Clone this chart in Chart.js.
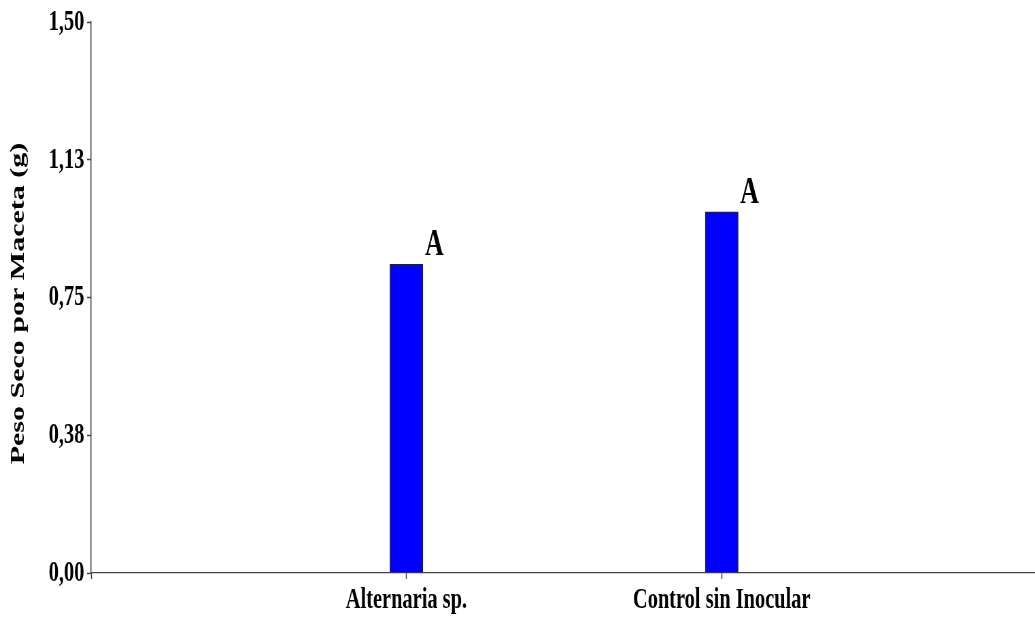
<!DOCTYPE html>
<html>
<head>
<meta charset="utf-8">
<script src="https://cdn.jsdelivr.net/npm/chart.js@4"></script>
<style>
  html, body { margin: 0; padding: 0; background: #fff; overflow: hidden; }
  /* the reference looks horizontally condensed, so draw wide and squeeze */
  #wrap { width: 1528px; height: 619px; transform: scaleX(0.68); transform-origin: 0 0; }
</style>
</head>
<body>
<div id="wrap"><canvas id="chart"></canvas></div>
<script>
const categories = ['Alternaria sp.', 'Control sin Inocular'];
const pesoSeco = [0.84, 0.983];
const letters = ['A', 'A'];
const yTickValues = [0, 0.375, 0.75, 1.125, 1.5];
const yTickLabels = ['0,00', '0,38', '0,75', '1,13', '1,50'];
const yTitle = 'Peso Seco por Maceta (g)';

// empty slots at both ends put the bars at 1/3 and 2/3 of the axis
const xLabels = ['', ...categories, ''];
const xData = [null, ...pesoSeco, null];
const xLetters = [null, ...letters, null];

const serif = '"Liberation Serif", "Times New Roman", serif';

// significance letters above each bar + the rotated y title
const extrasPlugin = {
  id: 'extras',
  afterDatasetsDraw(chart) {
    const ctx = chart.ctx;
    const meta = chart.getDatasetMeta(0);
    const area = chart.chartArea;
    ctx.save();
    ctx.font = 'bold 38px ' + serif;
    ctx.fillStyle = '#000';
    ctx.textAlign = 'center';
    ctx.textBaseline = 'alphabetic';
    meta.data.forEach((bar, i) => {
      if (!xLetters[i]) return;
      ctx.fillText(xLetters[i], bar.x + 41, bar.y - 9);
    });

    ctx.font = 'bold 30px ' + serif;
    ctx.textBaseline = 'middle';
    ctx.translate(27, (area.top + area.bottom) / 2 + 6);
    ctx.rotate(-Math.PI / 2);
    ctx.fillText(yTitle, 0, 0);
    ctx.restore();
  }
};

new Chart(document.getElementById('chart'), {
  type: 'bar',
  data: {
    labels: xLabels,
    datasets: [{
      data: xData,
      backgroundColor: '#0000ff',
      borderColor: '#222',
      borderWidth: 1.4,
      barThickness: 48.5
    }]
  },
  options: {
    responsive: true,
    maintainAspectRatio: false,
    animation: false,
    devicePixelRatio: 1,
    layout: { padding: { top: 16, right: 1, left: 0, bottom: 0 } },
    plugins: { legend: { display: false }, tooltip: { enabled: false } },
    scales: {
      x: {
        offset: false,
        grid: {
          offset: false,
          drawOnChartArea: false,
          tickLength: 6,
          tickWidth: 1.5,
          tickColor: (c) => c.index === xLabels.length - 1 ? 'rgba(0,0,0,0)' : '#444'
        },
        border: { color: '#444', width: 1.2 },
        ticks: {
          font: { family: serif, size: 30, weight: 'bold' },
          color: '#000',
          padding: 3,
          maxRotation: 0,
          autoSkip: false
        },
        afterFit: (s) => { s.height = 46; }
      },
      y: {
        min: 0,
        max: 1.5,
        afterBuildTicks: (s) => { s.ticks = yTickValues.map(v => ({ value: v })); },
        ticks: {
          callback: (v, i) => yTickLabels[i],
          font: { family: serif, size: 30, weight: 'bold' },
          color: '#000',
          padding: 4
        },
        grid: { drawOnChartArea: false, tickLength: 6, tickWidth: 1.5, tickColor: '#444' },
        border: { color: '#444', width: 1.5 },
        afterFit: (s) => { s.width = 134; }
      }
    }
  },
  plugins: [extrasPlugin]
});
</script>
</body>
</html>
